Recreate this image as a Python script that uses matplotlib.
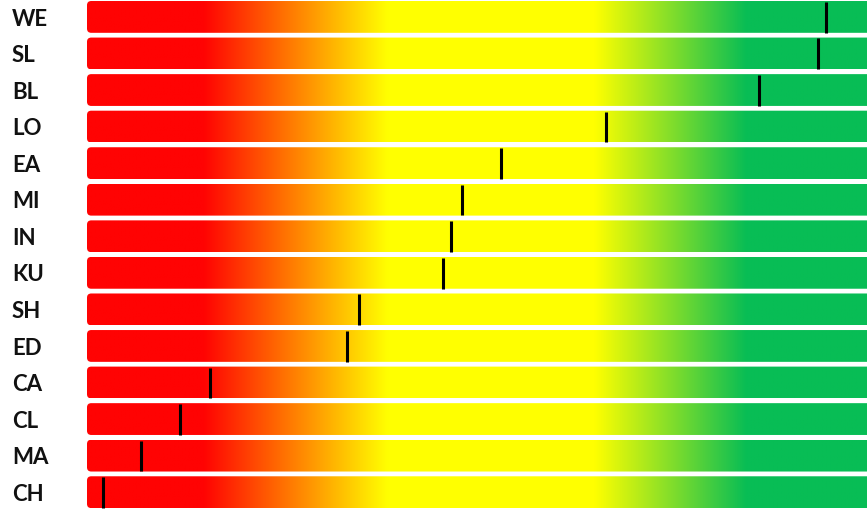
import numpy as np
import matplotlib.pyplot as plt
from matplotlib.patches import FancyBboxPatch
from matplotlib.transforms import blended_transform_factory

labels = ["WE", "SL", "BL", "LO", "EA", "MI", "IN", "KU", "SH", "ED", "CA", "CL", "MA", "CH"]
values = [94.7, 93.7, 86.2, 66.5, 53.1, 48.1, 46.7, 45.6, 34.9, 33.3, 15.8, 11.9, 6.9, 2.1]

# gradient stops (position on 0-100 scale, rgb)
stop_pos = [0, 14.9, 38.5, 65.1, 84.6, 105]
stop_rgb = [(255, 3, 3), (255, 3, 3), (255, 255, 0), (255, 255, 0), (8, 189, 85), (8, 189, 85)]

fig = plt.figure(figsize=(8.67, 5.10), dpi=100)
ax = fig.add_axes([87 / 867, 0, 1 - 87 / 867, 1])
ax.set_xlim(0, 100)
ax.set_ylim(13.46, -0.49)
ax.axis("off")

xs = np.linspace(0, 102, 600)
rgb = np.array(stop_rgb) / 255.0
grad = np.stack([np.interp(xs, stop_pos, rgb[:, c]) for c in range(3)], axis=-1)
grad = grad[np.newaxis, :, :]

h = 0.87
for i, (lab, v) in enumerate(zip(labels, values)):
    box = FancyBboxPatch((0, i - h / 2), 102, h,
                         boxstyle="round,pad=0,rounding_size=0.55",
                         mutation_aspect=0.21, facecolor="none", edgecolor="none")
    ax.add_patch(box)
    im = ax.imshow(grad, extent=(0, 102, i + h / 2, i - h / 2), aspect="auto",
                   interpolation="bilinear")
    im.set_clip_path(box)

ax.vlines(values, [i - 0.41 for i in range(len(values))],
          [i + 0.43 for i in range(len(values))], color="black", linewidth=2.2)

trans = blended_transform_factory(fig.transFigure, ax.transData)
for i, lab in enumerate(labels):
    ax.text(12 / 867, i + 0.03, lab, transform=trans, ha="left", va="center",
            fontsize=16, fontweight="bold", family=["Lato", "DejaVu Sans"], color="#111111")

fig.savefig("out.png", dpi=100)
